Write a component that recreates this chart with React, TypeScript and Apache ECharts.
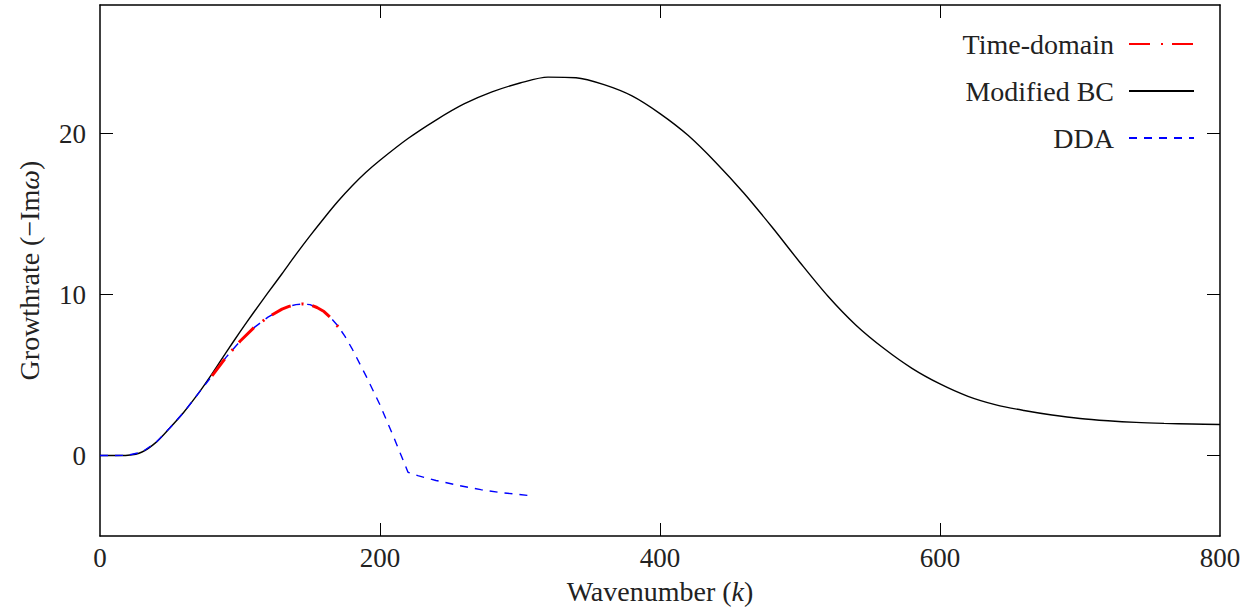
import React, { useEffect, useRef } from "react";
import * as echarts from "echarts";

const modifiedBC: [number, number][] = [
  [0, 0], [10, 0], [20, 0.02], [30, 0.22], [40, 0.82], [50, 1.73], [60, 2.71], [70, 3.83],
  [80, 5.08], [90, 6.4], [100, 7.68], [110, 8.92], [120, 10.12], [130, 11.3], [140, 12.5],
  [150, 13.65], [160, 14.75], [170, 15.8], [180, 16.75], [190, 17.6], [200, 18.35], [220, 19.7],
  [240, 20.85], [260, 21.85], [280, 22.6], [300, 23.15], [320, 23.52], [340, 23.48],
  [360, 23.05], [380, 22.35], [400, 21.25], [420, 19.9], [440, 18.2], [460, 16.3], [480, 14.2],
  [500, 12.0], [520, 9.9], [540, 8.1], [560, 6.65], [580, 5.42], [600, 4.45], [620, 3.68],
  [640, 3.15], [660, 2.8], [680, 2.52], [700, 2.3], [720, 2.16], [740, 2.06], [760, 2.0],
  [780, 1.96], [800, 1.93],
];

const dda: [number, number][] = [
  [0, 0], [10, 0], [20, 0.02], [30, 0.22], [40, 0.82], [50, 1.73], [60, 2.71], [70, 3.83],
  [80, 4.95], [90, 6.1], [100, 7.1], [110, 7.95], [120, 8.6], [130, 9.1], [135, 9.27],
  [140, 9.38], [145, 9.42], [150, 9.38], [155, 9.2], [160, 8.95], [165, 8.55], [170, 8.05],
  [175, 7.4], [180, 6.65], [190, 4.95], [200, 3.15], [210, 1.1], [220, -1.04], [227, -1.25],
  [240, -1.55], [257, -1.87], [272, -2.12], [286, -2.3], [307, -2.49],
];

const timeDomain: [number, number][] = [
  [80, 4.95], [90, 6.1], [100, 7.1], [110, 7.95], [120, 8.6], [130, 9.1], [135, 9.27],
  [140, 9.38], [145, 9.42], [150, 9.38], [155, 9.2], [160, 8.95], [165, 8.55], [171, 7.9],
];

const xTicks = [0, 200, 400, 600, 800];
const xInnerTicks = [200, 400, 600];
const yTicks = [0, 10, 20];

const FONT = "'Liberation Serif', 'DejaVu Serif', serif";
const TXT = "#222";

export default function App() {
  const ref = useRef<HTMLDivElement>(null);
  useEffect(() => {
    if (!ref.current) return;
    const chart = echarts.init(ref.current, null, { renderer: "svg" });
    const axisLineStyle = { color: "#000", width: 1.5 };
    const tick = (vals: number[]) => ({
      show: true,
      inside: true,
      length: 13,
      customValues: vals,
      lineStyle: { color: "#000", width: 1 },
    });
    const nameStyle = {
      fontFamily: FONT,
      fontSize: 28,
      color: TXT,
      rich: { i: { fontStyle: "italic", fontFamily: FONT, fontSize: 28, color: TXT } },
    };
    chart.setOption({
      animation: false,
      backgroundColor: "#fff",
      textStyle: { fontFamily: FONT, color: TXT },
      grid: { left: 100, right: 34, top: 5, bottom: 77, containLabel: false },
      legend: {
        orient: "vertical",
        right: 59,
        top: 30,
        padding: 0,
        align: "right",
        itemWidth: 65,
        itemHeight: 14,
        itemGap: 19,
        itemStyle: { opacity: 0 },
        data: ["Time-domain", "Modified BC", "DDA"],
        textStyle: { fontFamily: FONT, fontSize: 28, color: TXT, padding: [0, 10, 0, 0] },
      },
      xAxis: [
        {
          type: "value",
          min: 0,
          max: 800,
          position: "bottom",
          splitLine: { show: false },
          axisLine: { show: true, onZero: false, lineStyle: axisLineStyle },
          axisTick: tick(xInnerTicks),
          axisLabel: {
            customValues: xTicks,
            margin: 8,
            fontFamily: FONT,
            fontSize: 27,
            color: TXT,
          },
          name: "Wavenumber ({i|k})",
          nameLocation: "middle",
          nameGap: 41,
          nameTextStyle: nameStyle,
        },
        {
          type: "value",
          min: 0,
          max: 800,
          position: "top",
          splitLine: { show: false },
          axisLine: { show: true, onZero: false, lineStyle: axisLineStyle },
          axisTick: tick(xInnerTicks),
          axisLabel: { show: false },
        },
      ],
      yAxis: [
        {
          type: "value",
          min: -5,
          max: 28,
          position: "left",
          splitLine: { show: false },
          axisLine: { show: true, onZero: false, lineStyle: axisLineStyle },
          axisTick: tick(yTicks),
          axisLabel: {
            customValues: yTicks,
            margin: 14,
            fontFamily: FONT,
            fontSize: 27,
            color: TXT,
          },
          name: "Growthrate (−Im{i|ω})",
          nameLocation: "middle",
          nameGap: 57,
          nameTextStyle: nameStyle,
        },
        {
          type: "value",
          min: -5,
          max: 28,
          position: "right",
          splitLine: { show: false },
          axisLine: { show: true, onZero: false, lineStyle: axisLineStyle },
          axisTick: tick(yTicks),
          axisLabel: { show: false },
        },
      ],
      series: [
        {
          name: "Modified BC",
          type: "line",
          data: modifiedBC,
          smooth: 0.3,
          symbol: "none",
          z: 2,
          lineStyle: { color: "#000", width: 1.4 },
          itemStyle: { color: "#000" },
        },
        {
          name: "DDA",
          type: "line",
          data: dda,
          smooth: false,
          symbol: "none",
          z: 3,
          lineStyle: { color: "#0000ff", width: 1.4, type: [8, 7] },
          itemStyle: { color: "#0000ff" },
        },
        {
          name: "Time-domain",
          type: "line",
          data: timeDomain,
          smooth: false,
          symbol: "none",
          z: 4,
          lineStyle: { color: "#ff0000", width: 3, type: [21, 11, 2, 9] },
          itemStyle: { color: "#ff0000" },
        },
      ],
    });
    return () => chart.dispose();
  }, []);
  return (
    <div
      ref={ref}
      style={{ position: "absolute", left: 0, top: 0, width: 1254, height: 613, background: "#fff" }}
    />
  );
}
